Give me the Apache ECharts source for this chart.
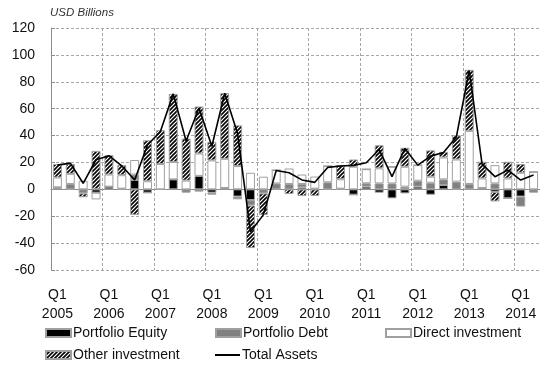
<!DOCTYPE html>
<html>
<head>
<meta charset="utf-8">
<script src="https://cdn.jsdelivr.net/npm/echarts@6/dist/echarts.min.js"></script>
<style>
  html, body { margin: 0; padding: 0; background: #fff; }
  #chart { width: 540px; height: 370px; }
</style>
</head>
<body>
<div id="chart"></div>
<script>
// Quarterly financial account assets, USD billions
const categories = [
  'Q1 2005','Q2 2005','Q3 2005','Q4 2005',
  'Q1 2006','Q2 2006','Q3 2006','Q4 2006',
  'Q1 2007','Q2 2007','Q3 2007','Q4 2007',
  'Q1 2008','Q2 2008','Q3 2008','Q4 2008',
  'Q1 2009','Q2 2009','Q3 2009','Q4 2009',
  'Q1 2010','Q2 2010','Q3 2010','Q4 2010',
  'Q1 2011','Q2 2011','Q3 2011','Q4 2011',
  'Q1 2012','Q2 2012','Q3 2012','Q4 2012',
  'Q1 2013','Q2 2013','Q3 2013','Q4 2013',
  'Q1 2014','Q2 2014'
];

const portfolioEquity = [1, 0, 0, -2.5, 2, 0, 7, -2.5, 0, 7.4, 0, 10, -2.5, 1, -5.4, -8, 0, 0, 0, 1.5,
  0, 0, 0, -4, 2, -2.5, -6.7, -3, 2, -4, 3.2, 0, 0, 1, -2, -6.7, -5.4, 0];

const portfolioDebt = [0.5, 4, -3, 0, 0, 0.5, 4, 0, 0, 0, -2.5, -1.7, -1.5, 0, -2, -4, -3, 4.4, 4, 2.5,
  0.5, 5.2, 0.5, 0, 2.5, 4.4, 4.4, 2, 4.4, 4.9, 4.2, 5.7, 4, 0, 4.4, 0, -7.4, -2.5];

const directInvestment = [7.3, 7.5, 6.4, -5, 9, 10, 10.8, 6, 18.8, 13, 6.5, 16.6, 21.5, 21.7, 17.3, 12.3, 9.4, 9.9, 11.5, 7,
  9, 12.1, 7, 16.8, 10.5, 11.2, 12.4, 14.8, 11.6, 4.5, 16.3, 16.5, 39.5, 7.1, 13.6, 8.1, 12.3, 13];

const otherInvestment = [10, 7.4, -2.9, 28.6, 14.4, 7.5, -19, 30.5, 25.2, 50.6, 31.3, 35, 13.8, 48.9, 30.3, -31.7, -16, 0, -3.5, -5,
  -4.9, 0, 10.6, 5.4, 0, 17.2, 0, 14.1, 0, 19.6, 4.2, 18, 45.4, 12.4, -7, 12.4, 6.5, 0];

const totalAssets = [18, 19.5, 4.5, 22, 25, 17.5, 7, 33, 43, 71, 36, 60.5, 32, 71.5, 41.5, -31.5, -19, 14, 12.3, 7,
  5.2, 16.3, 17.3, 17.8, 19.8, 29.6, 9.4, 30.4, 18, 24.7, 27.4, 39, 88.4, 18.8, 9.4, 14.3, 6.9, 10.6];

const yTicks = { min: -60, max: 120, step: 20 };

// diagonal hatch used for "Other investment"
function hatch() {
  const c = document.createElement('canvas');
  c.width = 4; c.height = 4;
  const g = c.getContext('2d');
  g.fillStyle = '#fff';
  g.fillRect(0, 0, 4, 4);
  g.strokeStyle = '#000';
  g.lineWidth = 1.6;
  g.beginPath();
  g.moveTo(-1, 5); g.lineTo(5, -1);
  g.moveTo(-1, 1); g.lineTo(1, -1);
  g.moveTo(3, 5); g.lineTo(5, 3);
  g.stroke();
  return { image: c, repeat: 'repeat' };
}
const hatchFill = hatch();

const FONT = "'Liberation Sans', Arial, sans-serif";
const border = { borderColor: '#a0a0a0', borderWidth: 1 };

const chart = echarts.init(document.getElementById('chart'), null, { renderer: 'canvas' });

function barSeries(name, data, color) {
  return {
    name, type: 'bar', stack: 'assets', data,
    barWidth: 9,
    xAxisIndex: 0,
    itemStyle: Object.assign({ color }, border),
    emphasis: { disabled: true }
  };
}

function legendAt(name, left, top, extra) {
  return Object.assign({
    data: [name], left, top,
    itemWidth: 25, itemHeight: 8, itemGap: 4,
    icon: 'rect',
    textStyle: { fontFamily: FONT, fontSize: 14, color: '#111', padding: [0, 0, 0, -3] },
    selectedMode: false
  }, extra || {});
}

chart.setOption({
  animation: false,
  textStyle: { fontFamily: FONT },
  grid: { left: 51, right: 0, top: 28, bottom: 100 },
  graphic: [{
    type: 'text', left: 50, top: 7,
    style: { text: 'USD Billions', font: 'italic 11.5px ' + FONT, fill: '#333' }
  }],
  legend: [
    legendAt('Portfolio Equity', 40, 321),
    legendAt('Portfolio Debt', 210, 321),
    legendAt('Direct investment', 380, 321),
    legendAt('Other investment', 40, 343),
    legendAt('Total Assets', 210, 343, { itemHeight: 2 })
  ],
  xAxis: [{
    type: 'category', data: categories,
    axisLine: { onZero: true, lineStyle: { color: '#8c8c8c', width: 1 } },
    axisTick: { show: false },
    axisLabel: { show: false },
    splitLine: { show: false }
  }, {
    type: 'category', data: categories, position: 'bottom',
    axisLine: { show: false, onZero: false },
    axisTick: { show: false },
    axisLabel: {
      interval: 3, margin: 16, fontSize: 14, color: '#111', lineHeight: 19,
      formatter: v => v.replace(' ', '\n')
    },
    splitLine: { show: true, interval: 3, lineStyle: { color: '#a6a6a6', type: [3, 2], width: 1 } }
  }],
  yAxis: {
    type: 'value', min: yTicks.min, max: yTicks.max, interval: yTicks.step,
    axisLine: { show: true, lineStyle: { color: '#8c8c8c', width: 1 } },
    axisTick: { show: true, inside: true, length: 4, lineStyle: { color: '#8c8c8c' } },
    axisLabel: { fontSize: 14, color: '#111', margin: 16 },
    splitLine: { show: true, lineStyle: { color: '#a6a6a6', type: [3, 2], width: 1 } }
  },
  series: [
    barSeries('Portfolio Equity', portfolioEquity, '#000'),
    barSeries('Portfolio Debt', portfolioDebt, '#808080'),
    barSeries('Direct investment', directInvestment, '#fff'),
    barSeries('Other investment', otherInvestment, hatchFill),
    {
      name: 'Total Assets', type: 'line', data: totalAssets,
      showSymbol: false, symbol: 'none',
      lineStyle: { color: '#000', width: 1.6 },
      itemStyle: { color: '#000' },
      z: 5,
      emphasis: { disabled: true }
    }
  ]
});
</script>
</body>
</html>
